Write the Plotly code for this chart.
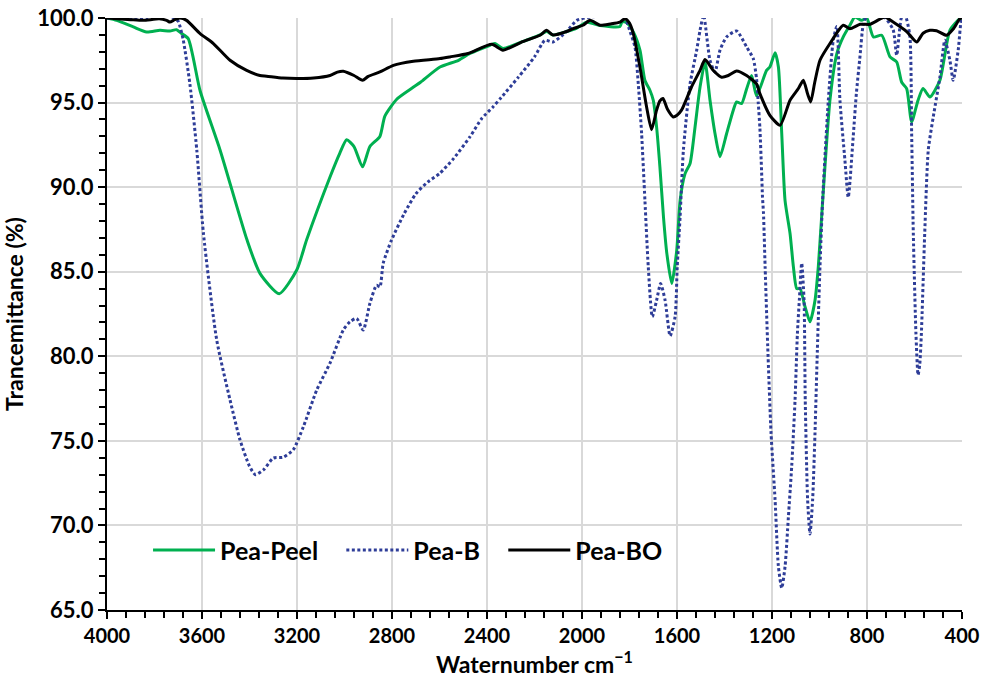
import plotly.graph_objects as go

# FTIR spectra of pea peel samples: wavenumber (cm-1) and transmittance (%)
peel_wn = [4000, 3959, 3889, 3833, 3777, 3735, 3707, 3686, 3658, 3608, 3524, 3411, 3356, 3275,
           3201, 3159, 3061, 3020, 2991, 2960, 2924, 2893, 2851, 2830, 2780, 2711, 2680, 2598,
           2520, 2472, 2387, 2366, 2333, 2250, 2177, 2149, 2122, 2065, 2022, 1980, 1924, 1840,
           1831, 1810, 1784, 1756, 1735, 1714, 1700, 1686, 1672, 1657, 1643, 1622, 1601, 1587,
           1566, 1545, 1524, 1503, 1482, 1461, 1440, 1419, 1391, 1363, 1349, 1328, 1307, 1286,
           1265, 1223, 1209, 1187, 1173, 1159, 1145, 1124, 1110, 1096, 1082, 1061, 1040, 1019,
           1005, 991, 956, 927, 900, 872, 851, 823, 801, 773, 738, 703, 675, 654, 633, 612, 585,
           564, 535, 493, 451, 409, 400]
peel_t = [100.0, 99.86, 99.47, 99.17, 99.27, 99.23, 99.31, 99.08, 98.78, 95.7, 92.2, 86.9, 84.9, 83.7,
          85.1, 86.9, 90.6, 92.0, 92.8, 92.4, 91.2, 92.4, 93.0, 94.2, 95.2, 95.9, 96.2, 97.1,
          97.5, 97.9, 98.39, 98.49, 98.2, 98.6, 99.0, 99.2, 99.0, 99.2, 99.4, 99.75, 99.55, 99.5,
          99.8, 99.7, 99.17, 98.1, 96.3, 95.73, 95.14, 93.56, 91.2, 88.25, 86.1, 84.3, 86.28, 89.2,
          90.8, 91.4, 93.56, 95.92, 97.4, 95.14, 93.17, 91.8, 93.17, 94.55, 95.04, 94.94, 95.8, 96.6,
          95.4, 96.9, 97.1, 97.95, 97.1, 93.17, 89.2, 87.26, 85.3, 84.0, 84.0, 82.93, 82.04, 83.3,
          85.3, 88.25, 95.14, 97.9, 98.88, 99.57, 100.06, 99.86, 100.0, 98.88, 98.98, 97.7, 97.4,
          96.2, 95.83, 93.86, 95.14, 95.83, 95.33, 96.32, 99.27, 99.96, 100.0]

b_wn = [4000, 3890, 3833, 3777, 3742, 3714, 3700, 3679, 3651, 3622, 3594, 3538, 3482, 3440, 3400,
        3375, 3340, 3300, 3258, 3216, 3173, 3117, 3061, 3005, 2977, 2949, 2921, 2893, 2865, 2851,
        2837, 2802, 2750, 2700, 2650, 2600, 2540, 2472, 2422, 2375, 2340, 2268, 2200, 2156, 2122,
        2065, 2022, 1966, 1924, 1854, 1830, 1815, 1800, 1777, 1763, 1749, 1735, 1721, 1704, 1686,
        1669, 1650, 1629, 1608, 1599, 1587, 1573, 1545, 1517, 1503, 1488, 1461, 1440, 1419, 1391,
        1349, 1307, 1279, 1265, 1258, 1251, 1244, 1240, 1236, 1229, 1218, 1204, 1187, 1173, 1159,
        1145, 1131, 1117, 1103, 1093, 1085, 1075, 1065, 1060, 1050, 1040, 1029, 1019, 1009, 998,
        987, 963, 942, 927, 914, 893, 879, 858, 845, 829, 816, 801, 731, 690, 675, 654, 640, 620,
        612, 605, 594, 585, 578, 571, 557, 542, 521, 493, 472, 451, 437, 416, 402, 400]
b_t = [100.0, 99.98, 99.96, 100.0, 100.16, 99.96, 99.8, 98.7, 96.1, 92.2, 87.26, 80.96, 77.42, 75.06, 73.5,
       73.0, 73.3, 73.98, 74.03, 74.47, 75.84, 78.0, 79.6, 81.55, 82.04, 82.24, 81.55, 83.13, 84.2, 84.1,
       85.5, 86.87, 88.4, 89.6, 90.3, 90.8, 91.7, 92.97, 94.06, 94.74, 95.3, 96.5, 97.7, 98.68, 98.58,
       99.2, 99.86, 100.06, 100.1, 100.16, 100.2, 99.9, 99.3, 98.29, 96.1, 93.17, 89.2, 85.3, 82.34, 83.3,
       84.3, 83.3, 81.2, 82.34, 85.3, 88.25, 92.2, 96.1, 98.1, 99.27, 100.16, 97.5, 96.8, 98.1, 98.88,
       99.23, 98.29, 97.6, 96.4, 95.0, 93.5, 91.0, 89.4, 88.5, 85.3, 80.57, 75.45, 71.5, 67.57, 66.3,
       67.57, 70.5, 73.5, 77.4, 81.36, 83.3, 85.5, 83.3, 77.4, 71.5, 69.5, 71.5, 75.45, 80.37, 85.3,
       89.2, 95.1, 98.7, 99.5, 95.14, 91.6, 89.4, 93.0, 95.5, 97.8, 99.6, 100.1, 100.1, 99.3, 97.8,
       100.06, 100.16, 99.0, 93.17, 87.26, 81.36, 78.9, 79.5, 81.36, 87.26, 92.2, 94.15, 96.5, 98.68,
       97.5, 96.32, 98.1, 100.0, 100.0]

bo_wn = [4000, 3900, 3847, 3780, 3749, 3735, 3715, 3693, 3665, 3608, 3552, 3482, 3412, 3356, 3328,
         3260, 3201, 3130, 3061, 3030, 3005, 2960, 2924, 2900, 2851, 2794, 2710, 2598, 2556, 2480,
         2380, 2333, 2250, 2177, 2149, 2122, 2065, 2038, 1996, 1966, 1924, 1880, 1840, 1819, 1800,
         1784, 1756, 1728, 1707, 1686, 1672, 1659, 1640, 1616, 1600, 1581, 1539, 1503, 1482, 1447,
         1412, 1384, 1349, 1307, 1265, 1251, 1209, 1166, 1124, 1089, 1068, 1050, 1037, 1020, 998,
         956, 900, 872, 829, 787, 750, 724, 690, 633, 591, 564, 535, 507, 465, 437, 409, 400]
bo_t = [100.0, 99.9, 99.86, 99.95, 99.86, 99.76, 99.9, 100.0, 99.86, 99.08, 98.49, 97.5, 96.9, 96.6, 96.56,
        96.45, 96.42, 96.45, 96.6, 96.8, 96.85, 96.6, 96.32, 96.55, 96.81, 97.2, 97.44, 97.6, 97.7, 97.9,
        98.45, 98.1, 98.6, 98.98, 99.27, 99.0, 99.2, 99.37, 99.57, 99.86, 99.57, 99.65, 99.76, 99.96, 99.7,
        99.08, 97.1, 94.74, 93.4, 94.55, 95.1, 95.24, 94.6, 94.15, 94.25, 94.55, 95.92, 96.9, 97.54, 96.9,
        96.5, 96.6, 96.87, 96.6, 96.1, 95.53, 94.25, 93.66, 95.14, 95.83, 96.32, 95.5, 95.04, 96.2, 97.5,
        98.49, 99.57, 99.37, 99.63, 99.63, 99.9, 100.06, 99.76, 99.2, 98.58, 99.1, 99.27, 99.25, 98.98,
        99.35, 99.96, 100.0]

x_ticks = [4000, 3600, 3200, 2800, 2400, 2000, 1600, 1200, 800, 400]
x_tick_text = [str(v) for v in x_ticks]

series_names = ["Pea-Peel", "Pea-B", "Pea-BO"]

FONT = "Lato"
GREEN = "#00B050"
BLUE = "#2E3D98"
PAD = "\u00a0" * 3  # extra room between horizontal legend entries

fig = go.Figure()
fig.add_trace(go.Scatter(x=peel_wn, y=peel_t, name=series_names[0] + PAD, mode="lines",
                         line=dict(color=GREEN, width=3, shape="spline", smoothing=0.6)))
fig.add_trace(go.Scatter(x=b_wn, y=b_t, name=series_names[1] + PAD, mode="lines",
                         line=dict(color=BLUE, width=3, dash="3px,2.5px", shape="spline", smoothing=0.6)))
fig.add_trace(go.Scatter(x=bo_wn, y=bo_t, name=series_names[2], mode="lines",
                         line=dict(color="black", width=3, shape="spline", smoothing=0.6)))

fig.update_layout(
    width=982, height=686,
    margin=dict(l=107, r=20, t=18, b=76),
    paper_bgcolor="white", plot_bgcolor="white",
    font=dict(family=FONT, size=18, color="black", weight="bold"),
    legend=dict(orientation="h", x=0.048, y=0.101, xanchor="left", yanchor="middle",
                bgcolor="rgba(0,0,0,0)", font=dict(family=FONT, size=25, weight="bold"),
                itemwidth=62, tracegroupgap=0),
)
fig.update_xaxes(
    range=[4000, 400], autorange=False,
    tickmode="array", tickvals=x_ticks, ticktext=x_tick_text,
    ticks="outside", ticklen=7, tickwidth=2, tickcolor="black",
    minor=dict(dtick=80, tick0=400, ticks="outside", ticklen=6, tickwidth=1.5, tickcolor="black",
               showgrid=False),
    showline=True, linecolor="black", linewidth=2,
    showgrid=True, gridcolor="#D9D9D9", gridwidth=1.5,
    zeroline=False,
    tickfont=dict(family=FONT, size=20, weight="bold"),
    title=dict(text="Waternumber cm<sup>−1</sup>", font=dict(family=FONT, size=23, weight="bold"),
               standoff=2),
    automargin=False,
)
fig.update_yaxes(
    range=[65, 100], autorange=False,
    dtick=5, tick0=65, tickformat=".1f",
    ticks="outside", ticklen=7, tickwidth=2, tickcolor="black",
    minor=dict(dtick=1, ticks="outside", ticklen=6, tickwidth=1.5, tickcolor="black", showgrid=False),
    showline=True, linecolor="black", linewidth=2,
    showgrid=True, gridcolor="#D9D9D9", gridwidth=1.5,
    zeroline=False,
    tickfont=dict(family=FONT, size=22, weight="bold"),
    title=dict(text="Trancemittance (%)", font=dict(family=FONT, size=23, weight="bold"),
               standoff=7),
    automargin=False,
)

fig.write_html("out.html")
